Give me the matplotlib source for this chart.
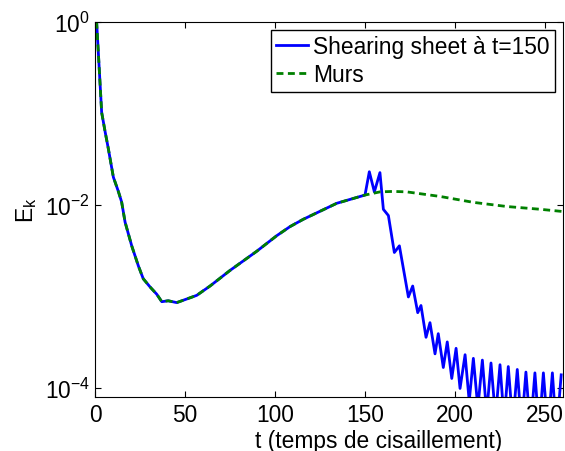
import matplotlib
matplotlib.use("Agg")
import matplotlib.pyplot as plt

plt.rcParams['font.family'] = ['Liberation Sans', 'DejaVu Sans']
plt.rcParams['mathtext.fontset'] = 'custom'
plt.rcParams['mathtext.rm'] = 'Liberation Sans'
plt.rcParams['mathtext.it'] = 'Liberation Sans:italic'

FS = 16.4

# shared part (both runs identical until t=150)
t_common = [0, 0.9, 3.7, 5.6, 7.4, 10.2, 12.9, 14.8, 16.7, 20.4, 24.1, 26.8,
            30.6, 34.3, 37.1, 40.7, 45.4, 50.9, 56.5, 63.9, 75, 89.8, 100.9,
            108.3, 115.7, 134.3, 150]
ek_common = [2.0, 1.0, 0.102, 0.063, 0.041, 0.020, 0.0141, 0.0107, 0.00646,
             0.00355, 0.00214, 0.00155, 0.00126, 0.00105, 0.00087, 0.00089,
             0.00085, 0.00093, 0.00102, 0.00129, 0.00191, 0.00309, 0.00457,
             0.00575, 0.00692, 0.01035, 0.01274]

# shearing sheet after t=150
t_shear = [152.4, 155.2, 158.3, 160.2, 163.0, 166.3, 169.1, 174.1, 176.5,
           179.3, 181.1, 183.9, 186.1, 188.9, 190.7, 193.5, 195.7, 198.2,
           200.6, 202.8, 205.6, 207.9, 210.2, 212.7, 215.2, 217.6, 220.0,
           222.5, 225.0, 227.3, 229.6, 232.1, 234.6, 237.0, 239.4, 241.9,
           244.4, 246.7, 249.1, 251.6, 254.1, 256.4, 259.0]
ek_shear = [0.0229, 0.0138, 0.0224, 0.0089, 0.0076, 0.0030, 0.00355, 0.00098,
            0.00129, 0.00066, 0.00079, 0.000355, 0.000513, 0.000234, 0.000389,
            0.000166, 0.000316, 0.000126, 0.000269, 9.8e-5, 0.000229, 7.1e-5,
            0.000209, 6.0e-5, 0.0002, 5.2e-5, 0.000186, 4.7e-5, 0.000178,
            4.3e-5, 0.00017, 4.0e-5, 0.000158, 3.7e-5, 0.000148, 3.5e-5,
            0.000145, 3.4e-5, 0.000145, 3.3e-5, 0.000145, 3.2e-5, 0.000138]

# walls after t=150
t_murs = [158.3, 165.7, 173.2, 191.7, 210.2, 228.7, 247.2, 257.4, 260]
ek_murs = [0.0138, 0.01396, 0.0138, 0.0123, 0.0106, 0.00955, 0.00891,
           0.00851, 0.00841]

fig = plt.figure(figsize=(5.65, 4.52), dpi=100)
ax = fig.add_axes([95 / 565, 1 - 397.5 / 452, 468 / 565, 374.8 / 452])

ax.plot(t_common + t_shear, ek_common + ek_shear, color=(0, 0, 1), lw=2,
        label='Shearing sheet à t=150')
ax.plot(t_common + t_murs, ek_common + ek_murs, color=(0, 0.5, 0), lw=2,
        dashes=(2.5, 1.6), label='Murs')

ax.set_yscale('log')
ax.set_xlim(0, 260)
ax.set_ylim(8.0e-5, 1)
ax.set_xticks([0, 50, 100, 150, 200, 250])
ax.set_yticks([1, 1e-2, 1e-4])
ax.set_yticklabels([r'$\mathregular{10^{0}}$', r'$\mathregular{10^{-2}}$',
                    r'$\mathregular{10^{-4}}$'])
ax.minorticks_off()
ax.tick_params(direction='in', top=True, right=True, labelsize=FS,
               length=4, width=0.8)
ax.tick_params(axis='x', pad=5)
for s in ax.spines.values():
    s.set_linewidth(0.8)

ax.set_xlabel('t (temps de cisaillement)', fontsize=FS)
ax.xaxis.set_label_coords(0.605, -0.088)
ax.set_ylabel(r'$\mathregular{E_k}$', fontsize=FS)

leg = ax.legend(loc='upper right', fontsize=FS, fancybox=False,
                edgecolor='black', framealpha=1, labelspacing=0.2,
                handlelength=1.4, handletextpad=0.2, borderpad=0.25,
                borderaxespad=0.35)
leg.get_frame().set_linewidth(1.0)

fig.savefig('out.png', dpi=100)
